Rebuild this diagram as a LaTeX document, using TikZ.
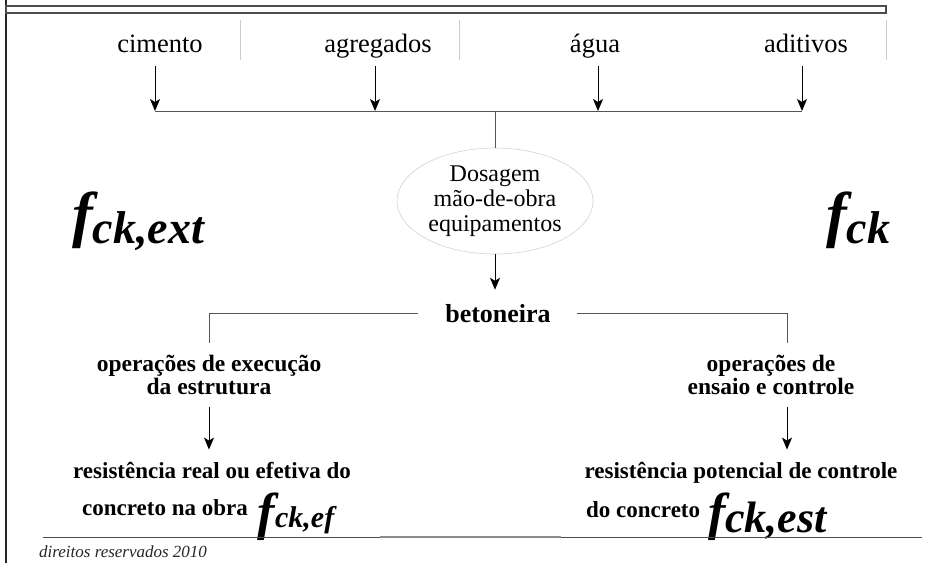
\documentclass[tikz,border=0pt]{standalone}
\usepackage{fontspec}
\setmainfont{Liberation Serif}
\usetikzlibrary{arrows.meta, positioning, calc, shapes.geometric}
\definecolor{linegray}{RGB}{85,85,85}
\definecolor{sepgray}{RGB}{205,205,205}
\definecolor{ovalgray}{RGB}{210,210,210}

\begin{document}
\begin{tikzpicture}[x=1pt, y=-1pt,
  lbl/.style={font=\fontsize{26.5}{28}\selectfont, anchor=base, inner xsep=0pt, inner ysep=10pt, text depth=4pt},
  dosage/.style={ellipse, draw=ovalgray, line width=0.6pt, minimum width=196pt, minimum height=106pt, inner sep=0pt, align=center, font=\fontsize{24}{25}\selectfont},
  oper/.style={font=\bfseries\fontsize{23.5}{17}\selectfont, align=center, inner sep=0pt},
  res/.style={font=\bfseries\fontsize{23}{26}\selectfont, anchor=base, inner sep=0pt},
  bigf/.style={font=\bfseries\itshape, anchor=base west, inner sep=0pt},
  conn/.style={draw=linegray, line width=1pt},
  arr/.style={draw=black, line width=1pt, -{Stealth[length=12pt, width=10pt, inset=3pt]}}
]
  \useasboundingbox (0,0) rectangle (952,563);

  % Frame
  \draw[black!85, line width=2.5pt] (6,0) -- (6,563);
  \draw[black!70, line width=1.1pt] (6,6) rectangle (886,13);
  \foreach \sx in {240, 459, 886}
    \draw[sepgray, line width=0.7pt] (\sx,20) -- (\sx,60);

  % Materials
  \node[lbl] (cim) at (160,52) {cimento};
  \node[lbl] (agr) at (378,52) {agregados};
  \node[lbl] (agua) at (595,52) {água};
  \node[lbl] (adit) at (806,52) {aditivos};

  \coordinate (j1) at (155,111);
  \coordinate (j2) at (375,111);
  \coordinate (j3) at (598,111);
  \coordinate (j4) at (802,111);

  \draw[conn] (j1) -- (j4);
  \draw[arr] (cim.south -| j1) -- (j1);
  \draw[arr] (agr.south -| j2) -- (j2);
  \draw[arr] (agua.south -| j3) -- (j3);
  \draw[arr] (adit.south -| j4) -- (j4);

  % Dosage and mixer
  \node[dosage] (dos) at (495,201) {Dosagem\\mão-de-obra\\equipamentos};
  \node[res, font=\bfseries\fontsize{26}{28}\selectfont] (beton) at (498,322) {betoneira};
  \draw[conn] (dos.north |- j1) -- (dos.north);
  \draw[arr, shorten >=14pt] (dos.south) -- (dos.south |- beton.north);

  % Big symbols
  \node[bigf] (fext) at (72,235) {{\fontsize{62}{62}\selectfont f}\raisebox{-8pt}{\fontsize{46}{46}\selectfont ck,ext}};
  \node[bigf] (fck) at (826,235) {{\fontsize{62}{62}\selectfont f}\raisebox{-8pt}{\fontsize{46}{46}\selectfont ck}};

  % Branches
  \coordinate (rx) at (787,0);
  \node[oper] (opexec) at (209,375) {operações de execução\\da estrutura};
  \node[oper] (opens) at (771,375) {operações de\\ensaio e controle};

  \draw[conn, shorten <=27pt, shorten >=12pt] (beton.west) -| (opexec.north);
  \draw[conn, shorten <=26pt, shorten >=12pt] (beton.east) -| (opens.north -| rx);

  \node[res] (resreal) at (212,478) {resistência real ou efetiva do};
  \node[res, anchor=base west] (obra) at (82,515) {concreto na obra\hspace{10pt}\raisebox{-14pt}{\itshape\fontsize{52}{52}\selectfont f}\raisebox{-12pt}{\itshape\fontsize{30}{30}\selectfont ck,ef}};
  \node[res] (respot) at (741,478) {resistência potencial de controle};
  \node[res, anchor=base west] (conc) at (586,517) {do concreto\hspace{8pt}\raisebox{-12pt}{\itshape\fontsize{52}{52}\selectfont f}\raisebox{-15pt}{\itshape\fontsize{44}{44}\selectfont ck,est}};

  \draw[arr, shorten <=12pt, shorten >=12pt] (opexec.south) -- (opexec.south |- resreal.north);
  \draw[arr, shorten <=12pt, shorten >=12pt] (opens.south -| rx) -- (respot.north -| rx);

  % Footer
  \draw[black!70, line width=1pt] (43,537) -- (922,537);
  \draw[black!45, line width=1.6pt] (380,537) -- (561,537);
  \node[font=\itshape\fontsize{17}{19}\selectfont, anchor=base west, inner sep=0pt, text=black!85] (foot) at (39,557) {direitos reservados 2010};
\end{tikzpicture}
\end{document}
